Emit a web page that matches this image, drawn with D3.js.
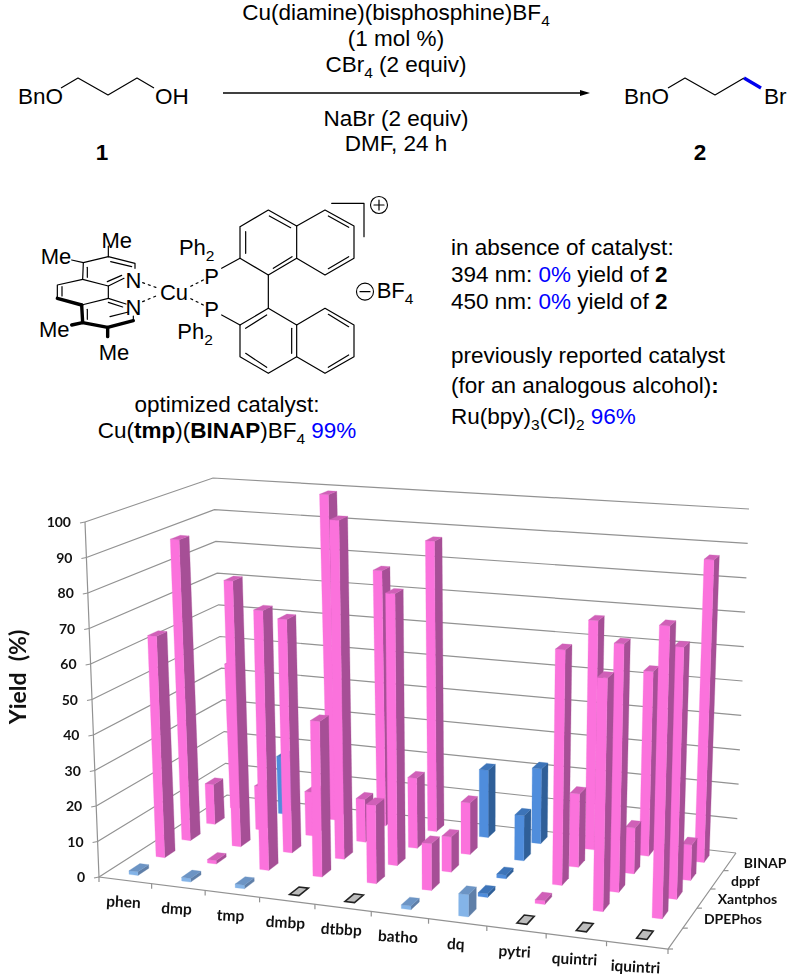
<!DOCTYPE html>
<meta charset="utf-8">
<style>body{margin:0;background:#fff}</style>
<body>
<script src="https://d3js.org/d3.v7.min.js"></script>
<script>
var VP = { w: 791, h: 977 }
var svg = d3.select('body').append('svg').attr('width', VP.w).attr('height', VP.h)

// chart values. first row has no label on the axis
var categories = ['phen','dmp','tmp','dmbp','dtbbp','batho','dq','pytri','quintri','iquintri']
var rowNames = ['','DPEPhos','Xantphos','dppf','BINAP']
var yTicks = [0,10,20,30,40,50,60,70,80,90,100]
var row0 = [1,1,1,0,0,1,6,0,0,0]
var row1 = [64,1,74,44,22,13,1,1,63.5,79]
var row2 = [89,78,68,98,78,10,1,66,69,69.5]
var row3 = [12,13,13,12.6,20.5,15,13,21,13,10]
var row4 = [44.5,17.5,99,77,87,20,22,67,53.5,87]
var kind0 = ['l','l','l','g','g','l','l','g','g','g']
var kind1 = ['p','p','p','p','p','p','b','p','p','p']
var kind2 = ['p','p','p','p','p','p','b','p','p','p']
var kind3 = ['p','p','p','p','p','p','b','p','p','p']
var kind4 = ['p','b','p','p','p','b','b','p','p','p']
var rows = [row0,row1,row2,row3,row4]
var kinds = [kind0,kind1,kind2,kind3,kind4]

var faces = {
  p: { front:'#fb72dc', side:'#a64f96', top:'#d060b8' },
  l: { front:'#84b4e8', side:'#5f7fa8', top:'#6c94c4' },
  b: { front:'#4f8ddc', side:'#2f5f98', top:'#3d74b8' },
  g: { front:'#bdbdbd', side:'#bdbdbd', top:'#bdbdbd' }
}

// box of the 3d plot, corners on the page
var box = {
  fl0:[99,877], fr0:[668,949], br0:[736,853], bl0:[227,795],
  fl1:[85,522], fr1:[678,566], br1:[749,509], bl1:[213,478]
}
var uBand = d3.scaleBand().domain(categories).range([0,1])
var vBand = d3.scaleBand().domain(d3.range(rows.length)).range([0,1])
var zScale = d3.scaleLinear().domain([0,100]).range([0,1])

var warp = (t,k) => t/(t+k*(1-t))  // perspective foreshortening
var mix = (a,b,t) => [a[0]+(b[0]-a[0])*t, a[1]+(b[1]-a[1])*t]
var project = (u,v,val) => {
  var U = warp(u,1.09), V = warp(v,0.9), Z = zScale(val)
  var bot = mix(mix(box.fl0,box.fr0,U), mix(box.bl0,box.br0,U), V)
  var top = mix(mix(box.fl1,box.fr1,U), mix(box.bl1,box.br1,U), V)
  return mix(bot,top,Z)
}
var line = d3.line()
var poly = pts => line(pts)+'Z'

var chart = svg.append('g').style('filter','blur(0.4px)')
var grid = chart.append('g').attr('stroke','#929292').attr('fill','none').attr('stroke-width',1.2)

yTicks.forEach(t => {
  grid.append('path').attr('d', line([project(0,0,t),project(0,1,t),project(1,1,t)]))
  var p = project(0,0,t)
  grid.append('path').attr('d', line([p,[p[0]-5,p[1]+1]]))
  chart.append('text').text(t)
    .attr('x',p[0]-14).attr('y',p[1]+5).attr('text-anchor','end')
    .attr('font-family','Lato').attr('font-weight',700).attr('font-size',14).attr('fill','#111')
})
grid.append('path').attr('d', line([project(0,0,100),project(0,0,0),project(1,0,0),project(1,1,0)]))

// front ticks and ligand names
categories.concat(['']).forEach((c,i) => {
  var u = i/categories.length
  var p = project(u,0,0)
  grid.append('path').attr('d', line([p,[p[0],p[1]+5]]))
  if (!c) return
  var m = project(u+uBand.bandwidth()/2,0,0)
  chart.append('text').text(c)
    .attr('transform',`translate(${m[0]-2},${m[1]+27}) rotate(3)`)
    .attr('text-anchor','middle')
    .attr('font-family','Lato').attr('font-weight',700).attr('font-size',15.5).attr('fill','#111')
})
// right ticks and bisphosphine names
rowNames.forEach((n,i) => {
  var p = project(1,i/rowNames.length,0)
  grid.append('path').attr('d', line([p,[p[0]+5,p[1]]]))
  if (!n) return
  var m = project(1,vBand(i)+vBand.bandwidth()/2,0)
  chart.append('text').text(n)
    .attr('x',m[0]+14).attr('y',m[1]+6)
    .attr('font-family','Lato').attr('font-weight',700).attr('font-size',14).attr('fill','#111')
})
chart.append('text').text('Yield\u00a0\u00a0(%)')
  .attr('transform','translate(26,677) rotate(-90)').attr('text-anchor','middle')
  .attr('font-family','Lato').attr('font-weight',700).attr('font-size',23).attr('fill','#111')

// bars, back row first
var bars = chart.append('g')
d3.range(rows.length).reverse().forEach(r => {
  categories.forEach((c,i) => {
    var val = rows[r][i], k = kinds[r][i], col = faces[k]
    var uw = uBand.bandwidth()*0.17, vw = vBand.bandwidth()*0.4
    var u0 = uBand(c)+(uBand.bandwidth()-uw)/2, u1 = u0+uw
    var v0 = vBand(r)+(vBand.bandwidth()-vw)/2, v1 = v0+vw
    if (k == 'g') {
      bars.append('path')
        .attr('d', poly([project(u0,v0,0),project(u1,v0,0),project(u1,v1,0),project(u0,v1,0)]))
        .attr('fill',col.top).attr('stroke','#222').attr('stroke-width',1.6)
      return
    }
    bars.append('path').attr('fill',col.side).attr('stroke',col.side).attr('stroke-width',.3)
      .attr('d', poly([project(u1,v0,0),project(u1,v1,0),project(u1,v1,val),project(u1,v0,val)]))
    bars.append('path').attr('fill',col.front).attr('stroke',col.front).attr('stroke-width',.3)
      .attr('d', poly([project(u0,v0,0),project(u1,v0,0),project(u1,v0,val),project(u0,v0,val)]))
    bars.append('path').attr('fill',col.top).attr('stroke',col.top).attr('stroke-width',.3)
      .attr('d', poly([project(u0,v0,val),project(u1,v0,val),project(u1,v1,val),project(u0,v1,val)]))
  })
})

// ---- scheme text ----
var FONT = 'Liberation Sans'
var rich = (x,y,segs,anchor,size) => {
  var t = svg.append('text').attr('x',x).attr('y',y)
    .attr('font-family',FONT).attr('font-size',size||22.5).attr('fill','#000')
    .attr('text-anchor',anchor||'start')
  var shifted = false
  segs.forEach(s => {
    var o = typeof s == 'string' ? {t:s} : s
    var ts = t.append('tspan').text(o.t)
    if (o.b) ts.attr('font-weight',700)
    if (o.blue) ts.attr('fill','#0000ff')
    if (o.sub) { ts.attr('font-size',15.5).attr('dy',6); shifted = true }
    else if (shifted) { ts.attr('dy',-6); shifted = false }
  })
  return t
}
var B = t => ({t:t,b:1}), S = t => ({t:t,sub:1}), C = t => ({t:t,blue:1})

rich(396,20,['Cu(diamine)(bisphosphine)BF',S('4')],'middle')
rich(396,46,['(1 mol %)'],'middle')
rich(396,72,['CBr',S('4'),' (2 equiv)'],'middle')
rich(396,126,['NaBr (2 equiv)'],'middle')
rich(396,151,['DMF, 24 h'],'middle')
rich(102,160,[B('1')],'middle')
rich(700,160,[B('2')],'middle')
rich(18,104,['BnO'])
rich(155,104,['OH'])
rich(624,104,['BnO'])
rich(764,104,['Br'])

var bondLine = (pts,w,col) => svg.append('path').attr('d',line(pts))
  .attr('fill','none').attr('stroke',col||'#000').attr('stroke-width',w||1.2)
  .attr('stroke-linejoin','round')
bondLine([[61,88],[78,78],[108,95],[137,78],[154,88]])
bondLine([[668,88],[685,78],[715,95],[744,78]])
bondLine([[744,78],[761,88]],3.2,'#0000ee')
bondLine([[223,93],[583,93]],1.3)
svg.append('path').attr('d',poly([[590,93],[580,90],[580,96]])).attr('fill','#000')

rich(451,255,['in absence of catalyst:'])
rich(451,282,['394 nm: ',C('0%'),' yield of ',B('2')])
rich(451,309,['450 nm: ',C('0%'),' yield of ',B('2')])
rich(451,363,['previously reported catalyst'])
rich(451,393,['(for an analogous alcohol)',B(':')])
rich(451,424,['Ru(bpy)',S('3'),'(Cl)',S('2'),' ',C('96%')])
rich(227,412,['optimized catalyst:'],'middle')
rich(227,438,['Cu(',B('tmp'),')(',B('BINAP'),')BF',S('4'),' ',C('99%')],'middle')

var mx = d3.scaleLinear().domain([0,1200]).range([0,400])
var my = d3.scaleLinear().domain([0,780]).range([190,450])
var mol = svg.append('g')
var bond = (pts,w,dash) => {
  var b = mol.append('path').attr('d',line(pts.map(p => [mx(p[0]),my(p[1])])))
    .attr('fill','none').attr('stroke','#000').attr('stroke-width',w||1.2)
    .attr('stroke-linecap','round').attr('stroke-linejoin','round')
  if (dash) b.attr('stroke-dasharray',dash)
}
var thinBonds = [
  [[720,110],[805,60],[890,108],[975,60],[1062,108],[1062,205],[975,255],[890,205],[805,255],[720,205],[720,110]],
  [[890,108],[890,205]],
  [[737,125],[737,190]],[[808,78],[872,113]],[[820,235],[876,200]],
  [[985,78],[1046,112]],[[985,236],[1046,200]],
  [[720,405],[805,355],[890,405],[975,355],[1062,405],[1062,500],[975,550],[890,500],[805,550],[720,500],[720,405]],
  [[890,405],[890,500]],
  [[737,415],[800,375]],[[875,415],[875,490]],[[737,490],[800,532]],
  [[985,373],[1046,410]],[[985,532],[1046,495]],
  [[805,255],[805,355]],
  [[665,235],[720,205]],[[665,375],[720,405]],
  [[995,40],[1092,40],[1092,140]],
  // phenanthroline, back half
  [[215,210],[250,218],[325,200],[405,220],[405,235]],[[325,200],[325,168]],
  [[262,232],[262,262]],[[250,218],[248,268],[325,288],[372,265]],[[332,215],[395,230]],
  [[322,275],[365,256]],[[248,268],[172,285],[172,325]],[[186,290],[186,318]],
  [[325,288],[325,325],[378,342]],[[325,337],[368,351]],[[245,345],[325,325]],
  [[262,358],[262,388]],[[330,380],[385,366]],[[400,392],[400,378]]
]
thinBonds.forEach(b => bond(b))
var boldBonds = [
  [[172,325],[245,345]],[[245,345],[248,398],[323,412],[400,392]],
  [[248,398],[215,405]],[[323,412],[323,440]]
]
boldBonds.forEach(b => bond(b,3.4))
var dotted = [
  [[428,278],[475,295]],[[428,335],[475,315]],[[610,270],[570,290]],[[610,345],[570,325]]
]
dotted.forEach(b => bond(b,1.2,'2 4'))

var atom = (z,zy,segs) => rich(mx(z),my(zy)+8,segs,'middle',22)
atom(350,150,['Me']); atom(168,197,['Me']); atom(163,418,['Me']); atom(342,485,['Me'])
atom(400,270,['N']); atom(400,350,['N'])
atom(522,305,['Cu']); atom(635,258,['P']); atom(635,358,['P'])
atom(590,170,['Ph',S('2')]); atom(585,422,['Ph',S('2')])

var ions = [[1137,45],[1095,305]]
ions.forEach(c => mol.append('circle').attr('cx',mx(c[0])).attr('cy',my(c[1])).attr('r',8.5)
  .attr('fill','none').attr('stroke','#000').attr('stroke-width',1.1))
bond([[1122,45],[1152,45]]); bond([[1137,30],[1137,60]]); bond([[1080,305],[1110,305]])
rich(mx(1130),my(325),['BF',S('4')],'start',22)
</script>
</body>
</html>
